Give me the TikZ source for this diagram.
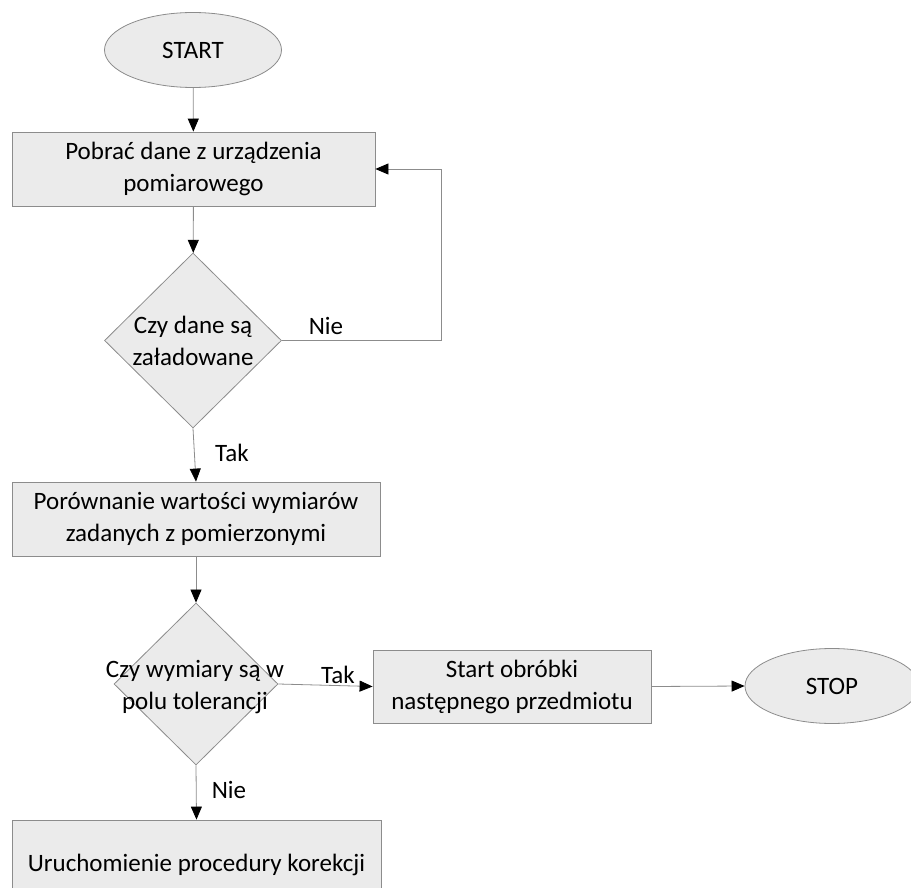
\documentclass[tikz,border=0pt]{standalone}
\usepackage{fontspec}
\setmainfont{Carlito}
\usetikzlibrary{shapes.geometric,arrows.meta}
\definecolor{boxfill}{HTML}{EBEBEB}
\definecolor{edgegray}{HTML}{8C8C8C}
\begin{document}
\begin{tikzpicture}[x=1pt,y=-1pt,
  every node/.style={font=\fontsize{25}{32}\selectfont},
  proc/.style={draw=edgegray, fill=boxfill, line width=0.8pt, inner sep=0, align=center},
  term/.style={ellipse, draw=edgegray, fill=boxfill, line width=0.8pt, minimum width=177pt, minimum height=75pt, inner sep=0},
  decis/.style={diamond, draw=edgegray, fill=boxfill, line width=0.8pt, inner sep=0},
  txt/.style={align=center, inner sep=0},
  flow/.style={draw=edgegray, line width=0.8pt, -{Triangle[length=13pt,width=11pt,color=black]}},
  lbl/.style={inner sep=0}]
\useasboundingbox (0,0) rectangle (911,888);
\clip (0,0) rectangle (911,888);

\node[term] (start) at (193,50) {START};
\node[proc, minimum width=363pt, minimum height=74pt] (b1) at (193.5,169) {Pobrać dane z urządzenia\\pomiarowego};
\node[decis, minimum width=177pt, minimum height=175pt] (d1) at (193,340.5) {};
\node[txt] (d1t) at (193,341) {Czy dane są\\załadowane};
\node[proc, minimum width=368pt, minimum height=74pt] (b2) at (196,519) {Porównanie wartości wymiarów\\zadanych z pomierzonymi};
\node[decis, minimum width=164pt, minimum height=162pt] (d2) at (196,684) {};
\node[txt] (d2t) at (195,687) {Czy wymiary są w\\polu tolerancji};
\node[proc, minimum width=278pt, minimum height=73pt] (b3) at (512,686.5) {Start obróbki\\następnego przedmiotu};
\node[term, minimum width=174pt] (stop) at (832,686) {STOP};
\node[proc, minimum width=369pt, minimum height=90pt] (b4) at (196.5,865) {Uruchomienie procedury korekcji};

\coordinate (loopc) at (441,340.5);

\draw[flow] (start) -- (b1);
\draw[flow] (b1) -- (d1);
\draw[flow] (d1.east) -- (loopc) |- (b1.east);
\draw[flow] (d1.south) -- (b2.north);
\draw[flow] (b2) -- (d2);
\draw[flow] (d2.east) -- (b3.west);
\draw[flow] (b3.east) -- (stop.west);
\draw[flow] (d2.south) -- (b4.north);

\node[lbl] (nie1) at (326,326) {Nie};
\node[lbl] (tak1) at (232,453) {Tak};
\node[lbl] (tak2) at (338,675) {Tak};
\node[lbl] (nie2) at (229,790) {Nie};
\end{tikzpicture}
\end{document}
